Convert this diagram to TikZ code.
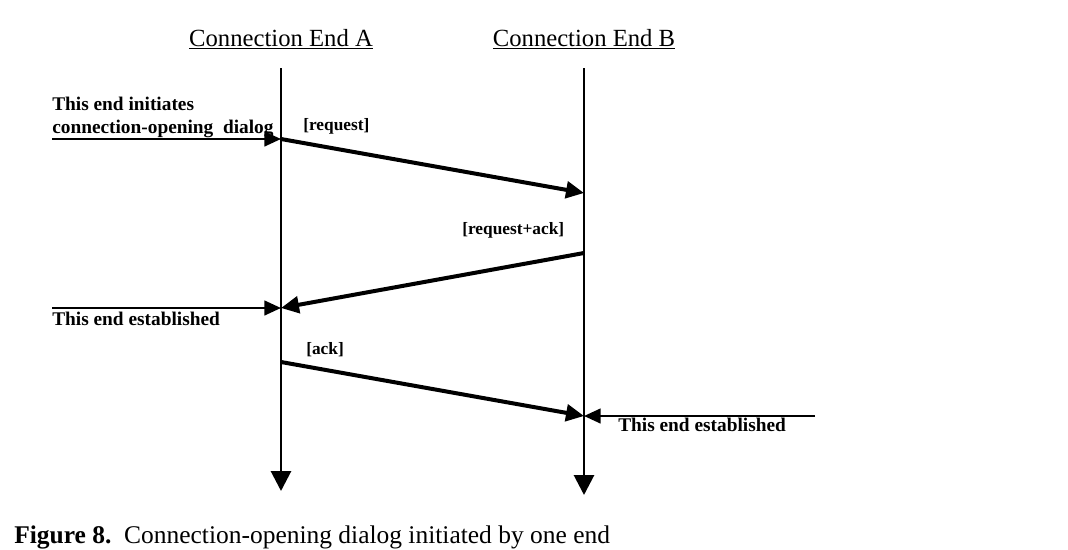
\documentclass[tikz,border=0pt]{standalone}
\usepackage{fontspec}
\setmainfont{Liberation Serif}
\usetikzlibrary{arrows.meta}
\begin{document}
\begin{tikzpicture}[x=0.75pt,y=-0.75pt,
  lifeline/.style={line width=2.2pt,-{Triangle[length=15pt,width=15pt]}},
  msg/.style={line width=3pt,-{Triangle[length=13.5pt,width=12.5pt]}},
  note/.style={line width=1.8pt,-{Triangle[length=12.5pt,width=11pt]}},
  head/.style={font=\fontsize{18.5}{20}\selectfont, anchor=base, inner sep=0pt},
  lbl/.style={font=\fontsize{14.5}{16}\selectfont\bfseries, anchor=base west, inner sep=0pt},
  tag/.style={font=\fontsize{13}{15}\selectfont\bfseries, anchor=base west, inner sep=0pt},
  captext/.style={font=\fontsize{19.1}{21}\selectfont, anchor=base west, inner sep=0pt}
]
\useasboundingbox (0,0) rectangle (1068,550);

% headings
\node[head] (hA) at (281,46) {\underline{Connection End A}};
\node[head] (hB) at (584,46) {\underline{Connection End B}};

% lifelines
\coordinate (Atop) at (281,68);
\coordinate (Abot) at (281,491);
\coordinate (Btop) at (584,68);
\coordinate (Bbot) at (584,495);
\draw[lifeline] (Atop) -- (Abot);
\draw[lifeline] (Btop) -- (Bbot);

% message points
\coordinate (A1) at (281,139);
\coordinate (B1) at (584,193);
\coordinate (B2) at (584,253);
\coordinate (A2) at (281,308);
\coordinate (A3) at (281,362);
\coordinate (B3) at (584,416);

% note starts
\coordinate (n1) at (52,139);
\coordinate (n2) at (52,308);
\coordinate (n3) at (815,416);

\draw[msg] (A1) -- (B1);
\draw[msg] (B2) -- (A2);
\draw[msg] (A3) -- (B3);

\draw[note] (n1) -- (A1);
\draw[note] (n2) -- (A2);
\draw[note] (n3) -- (B3);

% labels
\node[lbl] (l1) at (52,110) {This end initiates};
\node[lbl] (l2) at (52,133) {connection-opening\ \ dialog};
\node[tag] (t1) at (303,130) {[request]};
\node[tag] (t2) at (462,234) {[request+ack]};
\node[lbl] (l3) at (52,325) {This end established};
\node[tag] (t3) at (306,354) {[ack]};
\node[lbl] (l4) at (618,431) {This end established};

% caption
\node[captext] (c) at (14,543) {\textbf{Figure 8.}\ \ Connection-opening dialog initiated by one end};
\end{tikzpicture}
\end{document}
